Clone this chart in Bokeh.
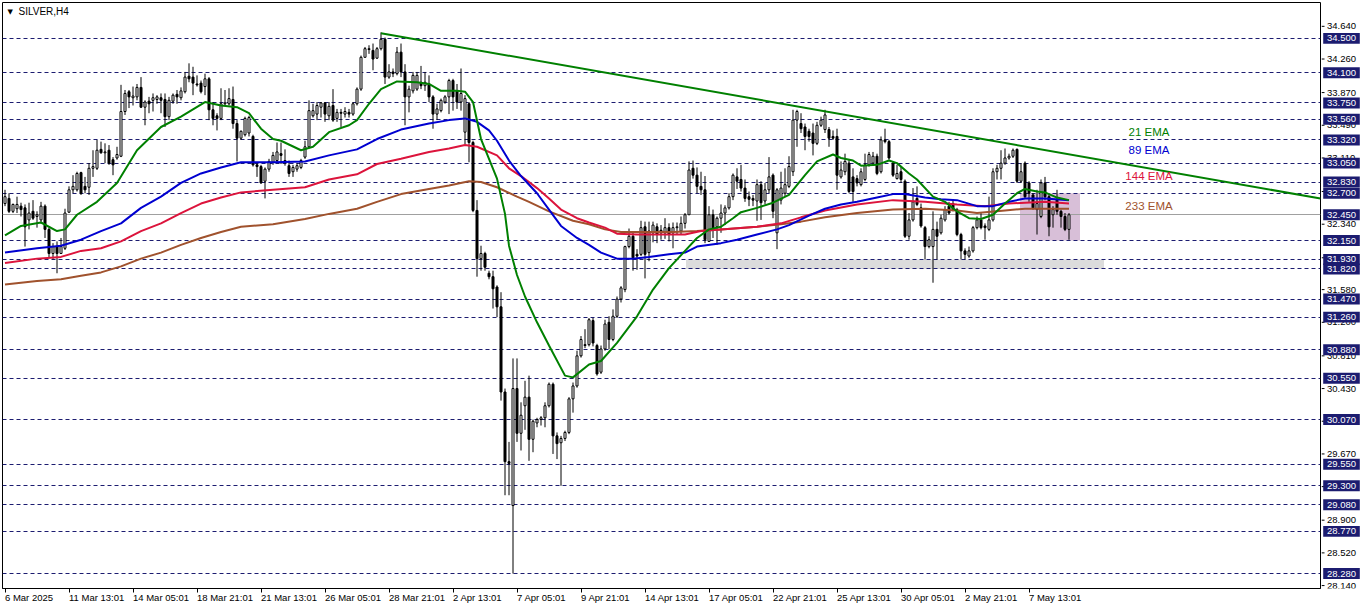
from bokeh.plotting import figure
from bokeh.layouts import row
from bokeh.models import Range1d, FixedTicker, Label
from bokeh.embed import file_html
from bokeh.resources import INLINE
from bokeh.core.properties import value

TITLE = "SILVER,H4"

BAR_OPEN = [
    32.58, 32.64, 32.49, 32.52, 32.55, 32.53, 32.39, 32.49, 32.43, 32.39,
    32.55, 32.28, 32.00, 32.08, 32.00, 32.06, 32.48, 32.74, 32.74, 32.94,
    32.78, 32.77, 32.99, 32.99, 33.21, 33.17, 33.20, 33.09, 33.11, 33.13,
    33.65, 33.88, 33.81, 33.82, 33.93, 33.70, 33.77, 33.78, 33.79, 33.81,
    33.79, 33.59, 33.77, 33.85, 33.81, 33.88, 34.06, 34.05, 33.97, 33.98,
    33.94, 34.03, 33.67, 33.60, 33.57, 33.74, 33.74, 33.79, 33.51, 33.34,
    33.38, 33.40, 33.36, 33.03, 33.01, 32.84, 32.98, 33.06, 33.08, 33.16,
    33.08, 33.02, 32.95, 32.98, 33.00, 33.12, 33.24, 33.60, 33.62, 33.70,
    33.75, 33.60, 33.72, 33.57, 33.64, 33.62, 33.64, 33.62, 33.74, 33.91,
    34.28, 34.37, 34.36, 34.27, 34.38, 34.49, 34.05, 34.11, 34.09, 34.34,
    34.11, 33.82, 33.89, 33.91, 33.99, 33.95, 33.97, 33.82, 33.62, 33.66,
    33.76, 33.82, 34.01, 33.89, 33.76, 33.41, 33.74, 33.29, 32.50, 31.94,
    32.00, 31.77, 31.73, 31.61, 31.38, 30.39, 29.58, 29.07, 30.43, 29.91,
    30.23, 30.33, 29.84, 30.03, 30.07, 30.09, 30.23, 30.48, 29.88, 29.80,
    29.85, 29.92, 30.31, 30.46, 30.81, 30.94, 30.94, 31.22, 30.93, 30.62,
    30.89, 31.20, 31.00, 31.27, 31.47, 31.58, 32.08, 32.20, 31.99, 31.99,
    32.31, 32.01, 32.24, 32.31, 32.27, 32.24, 32.30, 32.24, 32.30, 32.26,
    32.35, 32.45, 32.99, 32.91, 32.78, 32.74, 32.14, 32.45, 32.31, 32.41,
    32.47, 32.53, 32.66, 32.89, 32.86, 32.76, 32.66, 32.64, 32.61, 32.80,
    32.61, 32.74, 32.91, 32.24, 32.62, 32.70, 32.78, 32.95, 33.55, 33.51,
    33.47, 33.42, 33.40, 33.28, 33.49, 33.44, 33.44, 33.36, 33.36, 32.89,
    32.95, 33.05, 32.89, 32.87, 32.80, 32.86, 33.03, 33.05, 33.13, 32.95,
    33.32, 33.30, 33.05, 32.87, 32.95, 32.84, 32.20, 32.39, 32.64, 32.53,
    32.30, 32.08, 32.08, 32.28, 32.24, 32.39, 32.55, 32.58, 32.51, 32.22,
    32.03, 31.97, 32.03, 32.30, 32.39, 32.32, 32.28, 32.39, 32.95, 32.99,
    33.05, 33.11, 33.13, 33.21, 32.84, 33.05, 32.82, 32.68, 32.51, 32.43,
    32.82, 32.66, 32.45, 32.62, 32.49, 32.43, 32.28,
]
BAR_HIGH = [
    32.74, 32.70, 32.58, 32.66, 32.59, 32.57, 32.59, 32.62, 32.49, 32.60,
    32.57, 32.30, 32.12, 32.14, 32.18, 32.52, 32.78, 32.91, 32.95, 32.95,
    32.89, 33.05, 33.20, 33.32, 33.30, 33.28, 33.26, 33.12, 33.24, 33.96,
    33.90, 33.90, 33.94, 33.97, 34.05, 33.78, 33.82, 33.86, 33.84, 33.86,
    33.86, 33.82, 33.86, 33.90, 33.93, 34.11, 34.21, 34.17, 34.07, 34.01,
    34.09, 34.05, 33.76, 33.63, 33.92, 33.90, 33.92, 33.94, 33.55, 33.43,
    33.59, 33.60, 33.38, 33.05, 33.03, 33.00, 33.10, 33.18, 33.29, 33.29,
    33.21, 33.08, 33.03, 33.05, 33.10, 33.31, 33.78, 33.74, 33.76, 33.76,
    33.76, 33.76, 33.91, 33.68, 33.68, 33.70, 33.68, 33.76, 33.93, 34.30,
    34.40, 34.42, 34.44, 34.40, 34.57, 34.51, 34.20, 34.15, 34.40, 34.44,
    34.20, 33.95, 34.11, 34.11, 34.18, 34.11, 34.07, 33.84, 33.74, 33.80,
    33.84, 34.03, 34.03, 33.97, 34.15, 33.84, 33.76, 33.31, 32.62, 32.09,
    32.02, 31.80, 31.80, 31.63, 31.55, 30.43, 29.81, 30.78, 30.78, 30.27,
    30.52, 30.58, 30.07, 30.09, 30.11, 30.27, 30.50, 30.50, 29.92, 29.88,
    29.94, 30.33, 30.50, 30.87, 31.04, 31.12, 31.25, 31.25, 30.95, 30.93,
    31.23, 31.27, 31.35, 31.50, 31.62, 32.09, 32.29, 32.25, 32.05, 32.38,
    32.37, 32.37, 32.37, 32.35, 32.33, 32.41, 32.35, 32.36, 32.36, 32.43,
    32.47, 33.07, 33.08, 33.00, 32.95, 32.90, 32.55, 32.51, 32.43, 32.57,
    32.56, 32.70, 32.93, 32.99, 33.03, 32.86, 32.72, 32.68, 32.86, 32.84,
    32.82, 33.12, 32.93, 32.76, 32.95, 32.99, 33.13, 33.67, 33.67, 33.63,
    33.51, 33.45, 33.51, 33.53, 33.59, 33.67, 33.47, 33.43, 33.45, 33.07,
    33.16, 33.09, 32.99, 32.91, 32.99, 33.16, 33.18, 33.18, 33.16, 33.36,
    33.45, 33.32, 33.07, 33.03, 33.01, 32.86, 32.47, 32.76, 32.78, 32.58,
    32.32, 32.20, 32.49, 32.37, 32.45, 32.55, 32.60, 32.62, 32.53, 32.24,
    32.06, 32.08, 32.32, 32.43, 32.47, 32.35, 32.66, 32.99, 33.03, 33.20,
    33.22, 33.16, 33.22, 33.22, 33.05, 33.07, 32.84, 32.70, 32.74, 32.86,
    32.89, 32.68, 32.55, 32.74, 32.51, 32.47, 32.47,
]
BAR_LOW = [
    32.55, 32.47, 32.47, 32.47, 32.43, 32.08, 32.28, 32.39, 32.30, 32.35,
    32.18, 31.95, 31.93, 31.77, 32.00, 32.04, 32.47, 32.70, 32.72, 32.68,
    32.70, 32.68, 32.89, 32.97, 33.16, 33.05, 33.03, 32.91, 33.09, 33.12,
    33.61, 33.69, 33.72, 33.78, 33.69, 33.49, 33.63, 33.65, 33.74, 33.63,
    33.47, 33.55, 33.74, 33.74, 33.78, 33.86, 33.99, 33.84, 33.94, 33.86,
    33.84, 33.55, 33.49, 33.43, 33.55, 33.72, 33.72, 33.45, 33.07, 33.32,
    33.36, 33.36, 33.01, 32.89, 32.81, 32.64, 32.95, 33.03, 33.06, 33.04,
    33.02, 32.89, 32.89, 32.95, 32.98, 33.10, 33.22, 33.58, 33.55, 33.58,
    33.53, 33.55, 33.53, 33.53, 33.47, 33.58, 33.58, 33.60, 33.72, 33.89,
    34.28, 34.32, 34.13, 34.26, 34.36, 33.97, 34.03, 34.05, 34.07, 34.05,
    33.49, 33.64, 33.86, 33.89, 33.91, 33.89, 33.76, 33.45, 33.55, 33.64,
    33.74, 33.62, 33.66, 33.68, 33.66, 33.27, 33.06, 32.48, 31.73, 31.80,
    31.80, 31.70, 31.36, 31.26, 30.29, 29.19, 29.19, 28.28, 29.81, 29.71,
    29.95, 29.59, 29.69, 29.98, 30.00, 29.98, 30.21, 29.67, 29.61, 29.30,
    29.82, 29.90, 30.15, 30.44, 30.79, 30.90, 30.92, 30.92, 30.58, 30.60,
    30.87, 30.89, 30.98, 31.25, 31.43, 31.55, 32.06, 31.80, 31.81, 31.97,
    31.71, 31.91, 32.13, 32.12, 32.16, 32.17, 32.14, 32.06, 32.22, 32.22,
    32.29, 32.45, 32.87, 32.70, 32.68, 32.12, 32.14, 32.18, 32.10, 32.24,
    32.33, 32.51, 32.62, 32.75, 32.72, 32.60, 32.55, 32.55, 32.38, 32.39,
    32.57, 32.70, 32.41, 32.05, 32.57, 32.66, 32.76, 32.90, 33.24, 33.40,
    33.20, 33.30, 33.14, 33.26, 33.47, 33.40, 33.24, 33.32, 32.74, 32.87,
    32.91, 32.70, 32.60, 32.78, 32.78, 32.84, 33.01, 33.03, 32.91, 32.93,
    33.28, 33.09, 32.89, 32.86, 32.82, 32.18, 32.16, 32.37, 32.55, 32.30,
    31.93, 32.06, 31.66, 31.93, 32.22, 32.37, 32.45, 32.49, 32.20, 31.93,
    31.93, 31.95, 32.01, 32.28, 32.28, 32.16, 32.26, 32.37, 32.86, 32.86,
    33.03, 33.09, 33.11, 32.82, 32.82, 32.64, 32.60, 32.51, 32.22, 32.41,
    32.62, 32.20, 32.30, 32.45, 32.30, 32.26, 32.16,
]
BAR_CLOSE = [
    32.66, 32.49, 32.57, 32.57, 32.51, 32.31, 32.47, 32.41, 32.45, 32.55,
    32.28, 32.00, 32.08, 32.00, 32.08, 32.47, 32.74, 32.78, 32.93, 32.70,
    32.74, 32.99, 33.01, 33.20, 33.17, 33.18, 33.05, 33.03, 33.15, 33.65,
    33.86, 33.82, 33.83, 33.93, 33.70, 33.76, 33.74, 33.81, 33.82, 33.78,
    33.59, 33.78, 33.84, 33.82, 33.89, 34.05, 34.03, 33.98, 33.96, 33.88,
    34.03, 33.67, 33.57, 33.57, 33.74, 33.75, 33.80, 33.51, 33.34, 33.42,
    33.57, 33.58, 33.03, 33.01, 32.82, 32.98, 33.07, 33.14, 33.18, 33.14,
    33.06, 32.93, 33.00, 33.02, 33.08, 33.24, 33.66, 33.66, 33.72, 33.75,
    33.62, 33.71, 33.55, 33.64, 33.63, 33.65, 33.62, 33.74, 33.91, 34.28,
    34.38, 34.38, 34.26, 34.38, 34.49, 34.05, 34.11, 34.09, 34.34, 34.11,
    33.82, 33.91, 34.07, 34.07, 33.95, 33.99, 33.82, 33.62, 33.68, 33.78,
    33.82, 34.01, 33.82, 33.76, 33.86, 33.80, 33.29, 32.50, 31.94, 32.00,
    31.84, 31.73, 31.59, 31.38, 30.39, 29.58, 29.56, 30.43, 29.91, 30.12,
    30.33, 29.84, 30.05, 30.07, 30.09, 30.23, 30.48, 29.88, 29.79, 29.85,
    29.92, 30.31, 30.46, 30.81, 31.00, 30.93, 31.23, 30.96, 30.60, 30.89,
    31.18, 31.00, 31.27, 31.47, 31.60, 32.08, 32.20, 31.95, 31.97, 32.30,
    31.99, 32.26, 32.33, 32.22, 32.24, 32.30, 32.22, 32.30, 32.31, 32.35,
    32.45, 32.97, 32.91, 32.78, 32.74, 32.16, 32.45, 32.28, 32.41, 32.47,
    32.53, 32.66, 32.91, 32.84, 32.76, 32.64, 32.63, 32.62, 32.80, 32.59,
    32.74, 32.89, 32.49, 32.74, 32.76, 32.80, 33.01, 33.55, 33.65, 33.45,
    33.36, 33.36, 33.28, 33.49, 33.55, 33.61, 33.34, 33.34, 32.91, 32.97,
    33.07, 32.72, 32.72, 32.82, 32.95, 33.03, 33.15, 33.13, 32.93, 33.32,
    33.30, 33.11, 32.91, 32.93, 32.86, 32.20, 32.39, 32.60, 32.57, 32.32,
    32.08, 32.16, 32.28, 32.20, 32.41, 32.51, 32.47, 32.51, 32.22, 32.03,
    31.99, 32.03, 32.30, 32.39, 32.30, 32.30, 32.39, 32.95, 32.99, 33.05,
    33.11, 33.13, 33.20, 32.84, 32.95, 32.66, 32.70, 32.53, 32.58, 32.82,
    32.66, 32.31, 32.51, 32.49, 32.43, 32.28, 32.45,
]

EMA21_BARS = [0, 4, 9, 13, 15, 18, 23, 28, 33, 39, 44, 50, 54, 58, 61, 64, 67, 69, 74, 77,
              81, 86, 88, 91, 94, 98, 103, 106, 109, 113, 115, 117, 119, 123, 125, 126, 128,
              130, 133, 136, 140, 142, 146, 149, 153, 158, 162, 166, 170, 173, 176, 179, 182,
              184, 188, 192, 196, 200, 203, 207, 209, 212, 214, 218, 221, 223, 226, 228, 232,
              235, 238, 241, 244, 247, 250, 253, 255, 258, 260, 263, 266]
EMA21_VALUES = [32.21, 32.32, 32.36, 32.26, 32.28, 32.45, 32.60, 32.82, 33.20, 33.47, 33.59,
                33.76, 33.72, 33.70, 33.63, 33.45, 33.33, 33.31, 33.20, 33.24, 33.41, 33.49,
                33.55, 33.74, 33.91, 34.00, 33.99, 33.97, 33.89, 33.89, 33.88, 33.76, 33.33,
                32.87, 32.46, 32.09, 31.75, 31.50, 31.20, 30.93, 30.58, 30.56, 30.71, 30.75,
                30.96, 31.27, 31.58, 31.83, 32.03, 32.18, 32.28, 32.31, 32.41, 32.48, 32.53,
                32.59, 32.68, 32.91, 33.07, 33.15, 33.11, 33.08, 33.02, 33.03, 33.08, 33.05,
                32.93, 32.86, 32.66, 32.60, 32.49, 32.41, 32.40, 32.45, 32.58, 32.70, 32.75,
                32.72, 32.71, 32.65, 32.62]

EMA89_BARS = [0, 8, 14, 19, 24, 29, 34, 39, 44, 49, 54, 59, 67, 75, 81, 88, 93, 99, 106, 111,
              115, 118, 121, 123, 126, 129, 133, 136, 139, 143, 146, 149, 153, 157, 161, 166,
              170, 173, 179, 183, 188, 193, 196, 201, 205, 209, 213, 218, 222, 225, 230, 234,
              238, 243, 247, 251, 255, 260, 266]
EMA89_VALUES = [32.01, 32.06, 32.09, 32.16, 32.26, 32.35, 32.53, 32.66, 32.82, 32.93, 33.00,
                33.06, 33.06, 33.07, 33.14, 33.21, 33.33, 33.44, 33.51, 33.55, 33.57, 33.53,
                33.43, 33.31, 33.08, 32.90, 32.70, 32.51, 32.32, 32.18, 32.10, 32.01, 31.94,
                31.94, 31.96, 31.99, 32.01, 32.08, 32.12, 32.16, 32.22, 32.28, 32.33, 32.44,
                32.52, 32.57, 32.60, 32.65, 32.69, 32.69, 32.65, 32.63, 32.62, 32.55, 32.55,
                32.60, 32.64, 32.64, 32.62]

EMA144_BARS = [0, 8, 14, 19, 24, 29, 34, 39, 44, 49, 54, 59, 67, 75, 81, 88, 93, 99, 106, 111,
               115, 118, 123, 126, 129, 133, 136, 139, 143, 146, 150, 153, 158, 164, 170, 174,
               179, 188, 194, 199, 205, 213, 222, 230, 238, 245, 251, 255, 260, 266]
EMA144_VALUES = [31.89, 31.94, 31.96, 32.03, 32.06, 32.14, 32.26, 32.35, 32.47, 32.58, 32.65,
                 32.71, 32.74, 32.77, 32.86, 32.92, 33.04, 33.10, 33.18, 33.22, 33.26, 33.24,
                 33.14, 32.99, 32.90, 32.76, 32.64, 32.51, 32.41, 32.36, 32.30, 32.23, 32.22,
                 32.22, 32.22, 32.26, 32.28, 32.31, 32.35, 32.42, 32.50, 32.57, 32.62, 32.60,
                 32.57, 32.55, 32.58, 32.59, 32.60, 32.58]

EMA233_BARS = [0, 8, 14, 19, 24, 29, 34, 39, 44, 49, 54, 59, 67, 75, 81, 88, 93, 99, 106, 111,
               116, 119, 123, 128, 131, 136, 142, 146, 150, 154, 161, 167, 173, 179, 188, 194,
               199, 205, 213, 222, 230, 238, 243, 250, 255, 266]
EMA233_VALUES = [31.64, 31.68, 31.70, 31.74, 31.78, 31.85, 31.94, 32.01, 32.10, 32.18, 32.25,
                 32.31, 32.34, 32.40, 32.46, 32.52, 32.60, 32.69, 32.75, 32.79, 32.84, 32.83,
                 32.77, 32.66, 32.60, 32.49, 32.38, 32.34, 32.28, 32.25, 32.25, 32.25, 32.26,
                 32.28, 32.31, 32.34, 32.37, 32.42, 32.47, 32.51, 32.52, 32.50, 32.47, 32.50,
                 32.52, 32.52]

LEVELS_DASHED = [34.50, 34.10, 33.75, 33.56, 33.32, 33.05, 32.83, 32.70, 32.15, 31.93, 31.82,
                 31.47, 31.26, 30.88, 30.55, 30.07, 29.55, 29.30, 29.08, 28.77, 28.28]
LEVEL_SOLID = 32.45

PRICE_TICKS = [34.64, 34.26, 33.87, 33.49, 33.11, 32.72, 32.34, 31.95, 31.58, 31.20, 30.81,
               30.43, 30.05, 29.67, 29.29, 28.90, 28.52, 28.14]

DATE_TICK_BARS = [0, 16, 32, 48, 64, 80, 96, 112, 128, 144, 160, 176, 192, 208, 224, 240, 256]
DATE_TICK_LABELS = ["6 Mar 2025", "11 Mar 13:01", "14 Mar 05:01", "18 Mar 21:01",
                    "21 Mar 13:01", "26 Mar 05:01", "28 Mar 21:01", "2 Apr 13:01",
                    "7 Apr 05:01", "9 Apr 21:01", "14 Apr 13:01", "17 Apr 05:01",
                    "22 Apr 21:01", "25 Apr 13:01", "30 Apr 05:01", "2 May 21:01",
                    "7 May 13:01"]

TREND_BARS = [94, 200]
TREND_PRICES = [34.56, 33.693]

SUPPORT_ZONE_BARS = [170.25, 274.75]
SUPPORT_ZONE_PRICES = [31.82, 31.93]
RANGE_BOX_BARS = [253.75, 268.75]
RANGE_BOX_PRICES = [32.15, 32.70]

EMA_LABEL_TEXTS = ["21 EMA", "89 EMA", "144 EMA", "233 EMA"]
EMA_LABEL_BARS = [286, 286, 286, 286]
EMA_LABEL_PRICES = [33.41, 33.20, 32.90, 32.55]

# ---------------- style / layout ----------------
C_GREEN = "#008000"
C_BLUE = "#0000d0"
C_RED = "#dc143c"
C_BROWN = "#a0522d"
NAVY = "#1c1c70"
FONT = "Liberation Sans"

TOTAL_W, FIG_H = 1362, 611
SCALE_W = 41
MAIN_W = TOTAL_W - SCALE_W
BORDER_L, BORDER_T, BORDER_R, BORDER_B = 2, 2, 1, 21
PX_PER_BAR = 4
FRAME_W = MAIN_W - BORDER_L - BORDER_R
FRAME_H = FIG_H - BORDER_T - BORDER_B
X_START = -0.625
X_END = X_START + FRAME_W / PX_PER_BAR
Y_MIN, Y_MAX = 28.106, 34.917
PX_PER_PRICE = FRAME_H / (Y_MAX - Y_MIN)

p = figure(width=MAIN_W, height=FIG_H,
           x_range=Range1d(X_START, X_END), y_range=Range1d(Y_MIN, Y_MAX),
           output_backend="svg", toolbar_location=None, y_axis_location=None,
           min_border_left=BORDER_L, min_border_top=BORDER_T,
           min_border_right=BORDER_R, min_border_bottom=BORDER_B)
p.grid.visible = False
p.outline_line_color = "black"
p.outline_line_width = 1
p.background_fill_color = "white"
p.border_fill_color = "white"

xa = p.xaxis[0]
xa.ticker = FixedTicker(ticks=DATE_TICK_BARS)
xa.major_label_overrides = {b: t for b, t in zip(DATE_TICK_BARS, DATE_TICK_LABELS)}
xa.major_label_orientation = -0.0001   # keeps labels flat but starts them at their tick
xa.major_tick_in = 0
xa.major_tick_out = 4
xa.minor_tick_in = 0
xa.minor_tick_out = 0
xa.major_label_standoff = 5
xa.major_label_text_font = FONT
xa.major_label_text_font_size = "9.5px"
xa.major_label_text_color = "black"
xa.axis_line_color = "black"
xa.major_tick_line_color = "black"

# zones
p.quad(left=[SUPPORT_ZONE_BARS[0]], right=[SUPPORT_ZONE_BARS[1]],
       bottom=[SUPPORT_ZONE_PRICES[0]], top=[SUPPORT_ZONE_PRICES[1]],
       fill_color="#dcdcdc", line_color=None)
p.quad(left=[RANGE_BOX_BARS[0]], right=[RANGE_BOX_BARS[1]],
       bottom=[RANGE_BOX_PRICES[0]], top=[RANGE_BOX_PRICES[1]],
       fill_color="#d8bfd8", line_color=None)

# horizontal levels
p.hspan(y=LEVELS_DASHED, line_color=NAVY, line_width=1, line_dash="4 3")
p.hspan(y=[LEVEL_SOLID], line_color="#a0a0a0", line_width=1)

# candles
bars = list(range(len(BAR_CLOSE)))
tops = [max(o, c) for o, c in zip(BAR_OPEN, BAR_CLOSE)]
bots = [min(o, c) for o, c in zip(BAR_OPEN, BAR_CLOSE)]
fills = ["white" if c >= o else "black" for o, c in zip(BAR_OPEN, BAR_CLOSE)]
p.segment(x0=bars, y0=BAR_LOW, x1=bars, y1=BAR_HIGH, line_color="black", line_width=1)
p.vbar(x=bars, width=0.5, top=tops, bottom=bots, fill_color=fills,
       line_color="black", line_width=1)

# EMAs
p.line(EMA233_BARS, EMA233_VALUES, line_color=C_BROWN, line_width=2)
p.line(EMA144_BARS, EMA144_VALUES, line_color=C_RED, line_width=2)
p.line(EMA89_BARS, EMA89_VALUES, line_color=C_BLUE, line_width=2)
p.line(EMA21_BARS, EMA21_VALUES, line_color=C_GREEN, line_width=2)

# trend line (ray to the right edge)
slope = (TREND_PRICES[1] - TREND_PRICES[0]) / (TREND_BARS[1] - TREND_BARS[0])
p.line([TREND_BARS[0], X_END],
       [TREND_PRICES[0], TREND_PRICES[0] + slope * (X_END - TREND_BARS[0])],
       line_color=C_GREEN, line_width=2)

# EMA labels
p.text(x=EMA_LABEL_BARS, y=EMA_LABEL_PRICES, text=EMA_LABEL_TEXTS,
       text_color=[C_GREEN, C_BLUE, C_RED, C_BROWN],
       text_align="center", text_baseline="middle",
       text_font=value(FONT), text_font_size="11.5px")

# title
p.add_layout(Label(x=X_START, y=Y_MAX, x_offset=5, y_offset=-9, text="\u25bc",
                   text_baseline="middle", text_font="DejaVu Sans",
                   text_font_size="7px", text_color="black"))
p.add_layout(Label(x=X_START, y=Y_MAX, x_offset=16, y_offset=-9, text=TITLE,
                   text_baseline="middle", text_font=FONT,
                   text_font_size="10px", text_color="black"))

# ---------------- price scale panel (shares the price range) ----------------
q = figure(width=SCALE_W, height=FIG_H, x_range=Range1d(0, SCALE_W), y_range=p.y_range,
           output_backend="svg", toolbar_location=None,
           x_axis_location=None, y_axis_location=None,
           min_border_left=0, min_border_right=0,
           min_border_top=BORDER_T, min_border_bottom=BORDER_B)
q.grid.visible = False
q.outline_line_color = None
q.background_fill_color = "white"
q.border_fill_color = "white"

TICK_LEN = 3
TEXT_X = 5.5
TAG_LEFT, TAG_RIGHT, TAG_H = 1.7, 38.3, 11

q.segment(x0=[0] * len(PRICE_TICKS), x1=[TICK_LEN] * len(PRICE_TICKS),
          y0=PRICE_TICKS, y1=PRICE_TICKS, line_color="black", line_width=1)
q.text(x=[TEXT_X] * len(PRICE_TICKS), y=PRICE_TICKS,
       text=[f"{t:.3f}" for t in PRICE_TICKS],
       text_align="left", text_baseline="middle", text_color="black",
       text_font=value(FONT), text_font_size="9.5px")

tag_levels = LEVELS_DASHED + [LEVEL_SOLID]
half_h = TAG_H / 2 / PX_PER_PRICE
q.quad(left=[TAG_LEFT] * len(tag_levels), right=[TAG_RIGHT] * len(tag_levels),
       bottom=[v - half_h for v in tag_levels], top=[v + half_h for v in tag_levels],
       fill_color=NAVY, line_color=None)
q.text(x=[TEXT_X] * len(tag_levels), y=tag_levels,
       text=[f"{v:.3f}" for v in tag_levels],
       text_align="left", text_baseline="middle", text_color="white",
       text_font=value(FONT), text_font_size="9.5px")

open("out.html", "w").write(file_html(row(p, q), INLINE))
